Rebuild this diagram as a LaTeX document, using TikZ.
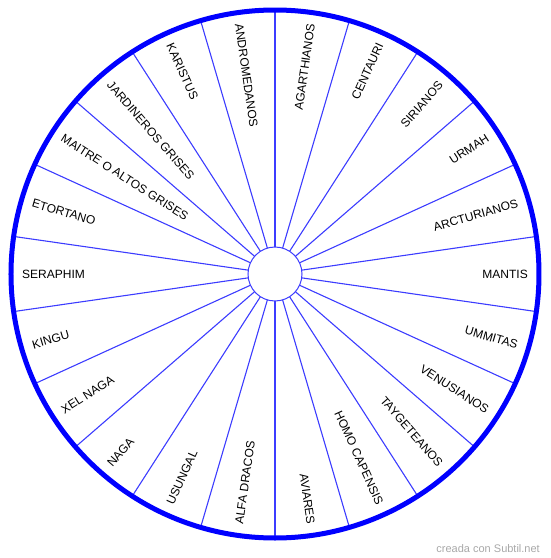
\documentclass[tikz,border=0pt]{standalone}
\usepackage{fontspec}
\setmainfont{Liberation Sans}
\definecolor{rimblue}{HTML}{0000FF}
\definecolor{spokeblue}{HTML}{3C3CFF}
\definecolor{markgray}{HTML}{A8A8A8}
\begin{document}
\begin{tikzpicture}[x=1pt,y=1pt,
  spoke/.style={draw=spokeblue,line width=1.1pt},
  rimstyle/.style={circle,draw=rimblue,line width=5pt,minimum size=528pt,inner sep=0pt,outer sep=0pt},
  hubstyle/.style={circle,draw=spokeblue,fill=white,line width=1pt,minimum size=54pt,inner sep=0pt,outer sep=0pt},
  lab/.style={inner sep=0pt,font=\fontsize{12}{14}\selectfont}]
\useasboundingbox (-275,-284) rectangle (275,274);
\foreach \k in {0,...,21}{
  \pgfmathsetmacro\ang{360/44+\k*360/22}
  \coordinate (h\k) at (\ang:27);
  \coordinate (r\k) at (\ang:264);
  \draw[spoke] (h\k) -- (r\k);
}
\node[rimstyle] (rim) at (0,0) {};
\node[hubstyle] (hub) at (0,0) {};
\foreach [count=\i from 0] \t in {MANTIS,ARCTURIANOS,URMAH,SIRIANOS,CENTAURI,AGARTHIANOS,ANDROMEDANOS,KARISTUS,JARDINEROS GRISES,MAITRE O ALTOS GRISES,ETORTANO,SERAPHIM,KINGU,XEL NAGA,NAGA,USUNGAL,ALFA DRACOS,AVIARES,HOMO CAPENSIS,TAYGETEANOS,VENUSIANOS,UMMITAS}{
  \pgfmathsetmacro\a{\i*360/22}
  \pgfmathtruncatemacro\left{(\a>90 && \a<270) ? 1 : 0}
  \ifnum\left=1
    \node[lab,anchor=west,rotate=\a-180] (L\i) at (\a:253) {\t};
  \else
    \node[lab,anchor=east,rotate=\a] (L\i) at (\a:253) {\t};
  \fi
}
\node[anchor=base east,inner sep=0pt,text=markgray,font=\fontsize{11}{12}\selectfont] (mark) at (265,-278) {creada con Subtil.net};
\end{tikzpicture}
\end{document}
